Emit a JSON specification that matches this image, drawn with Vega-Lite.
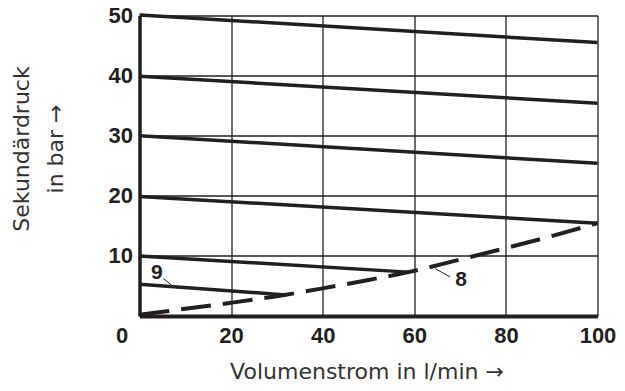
{
  "$schema": "https://vega.github.io/schema/vega-lite/v6.json",
  "autosize": {"type": "none"},
  "padding": {"left": 139.5, "top": 15.5, "right": 27.5, "bottom": 75},
  "width": 458,
  "height": 300.5,
  "background": "white",
  "config": {
    "view": {"stroke": null},
    "font": "Liberation Sans"
  },
  "datasets": {
    "solid": [
      {"series": "50", "q": 0, "p": 50.1},
      {"series": "50", "q": 100, "p": 45.5},
      {"series": "40", "q": 0, "p": 39.9},
      {"series": "40", "q": 100, "p": 35.4},
      {"series": "30", "q": 0, "p": 30.0},
      {"series": "30", "q": 100, "p": 25.4},
      {"series": "20", "q": 0, "p": 19.9},
      {"series": "20", "q": 100, "p": 15.45},
      {"series": "10", "q": 0, "p": 10.0},
      {"series": "10", "q": 58.7, "p": 7.3},
      {"series": "5", "q": 0, "p": 5.3},
      {"series": "5", "q": 32, "p": 3.5}
    ],
    "dashed": [
      {"q": 0, "p": 0.2},
      {"q": 10, "p": 1.2},
      {"q": 20, "p": 2.2},
      {"q": 30, "p": 3.3},
      {"q": 40, "p": 4.6},
      {"q": 50, "p": 6.0},
      {"q": 58.7, "p": 7.3},
      {"q": 70, "p": 9.4},
      {"q": 80, "p": 11.3},
      {"q": 90, "p": 13.3},
      {"q": 100, "p": 15.45}
    ],
    "leaders": [
      {"q": 5.2, "p": 6.27, "q2": 6.96, "p2": 5.16},
      {"q": 64.5, "p": 7.9, "q2": 67.8, "p2": 6.52}
    ],
    "labels": [
      {"q": 3.8, "p": 7.2, "label": "9"},
      {"q": 70.2, "p": 6.07, "label": "8"}
    ]
  },
  "layer": [
    {
      "data": {"name": "solid"},
      "mark": {"type": "line", "color": "#231f20", "strokeWidth": 3.5, "strokeCap": "butt", "clip": false},
      "encoding": {
        "x": {
          "field": "q", "type": "quantitative",
          "scale": {"domain": [0, 100], "nice": false, "zero": true},
          "axis": {
            "values": [0, 20, 40, 60, 80, 100],
            "title": "Volumenstrom in l/min →",
            "titleFont": "DejaVu Sans",
            "titleFontSize": 22,
            "titleFontWeight": "normal",
            "titleColor": "#333333",
            "titleBaseline": "alphabetic",
            "titleAnchor": "middle",
            "titleX": 227,
            "titleY": 62,
            "titlePadding": 0,
            "labelFont": "Liberation Sans",
            "labelFontWeight": "bold",
            "labelFontSize": 22,
            "labelColor": "#231f20",
            "labelBaseline": "alphabetic",
            "labelPadding": 26,
            "labelOffset": {"condition": {"test": "datum.value === 0", "value": -18}, "value": 0},
            "labelFlush": false,
            "ticks": false,
            "tickSize": 0,
            "domainColor": "#231f20",
            "domainWidth": 4,
            "grid": true,
            "gridColor": "#231f20",
            "gridWidth": 1.3,
            "gridOpacity": 1
          }
        },
        "y": {
          "field": "p", "type": "quantitative",
          "scale": {"domain": [0, 50], "nice": false, "zero": true},
          "axis": {
            "values": [10, 20, 30, 40, 50],
            "title": ["Sekundärdruck", "in bar →"],
            "titleFont": "DejaVu Sans",
            "titleFontSize": 22,
            "titleFontWeight": "normal",
            "titleColor": "#333333",
            "titleAngle": -90,
            "titleAlign": "center",
            "titleBaseline": "middle",
            "titleLineHeight": 34,
            "titleX": -118,
            "titleY": 133,
            "titlePadding": 0,
            "labelFont": "Liberation Sans",
            "labelFontWeight": "bold",
            "labelFontSize": 22,
            "labelColor": "#231f20",
            "labelBaseline": "middle",
            "labelPadding": 7,
            "labelFlush": false,
            "ticks": false,
            "tickSize": 0,
            "domainColor": "#231f20",
            "domainWidth": 3.5,
            "grid": true,
            "gridColor": "#231f20",
            "gridWidth": 1.3,
            "gridOpacity": 1
          }
        },
        "detail": {"field": "series", "type": "nominal"}
      }
    },
    {
      "data": {"name": "dashed"},
      "mark": {"type": "line", "color": "#231f20", "strokeWidth": 4, "strokeDash": [30, 12], "strokeCap": "butt", "interpolate": "monotone"},
      "encoding": {
        "x": {"field": "q", "type": "quantitative"},
        "y": {"field": "p", "type": "quantitative"}
      }
    },
    {
      "data": {"name": "leaders"},
      "mark": {"type": "rule", "color": "#231f20", "strokeWidth": 1},
      "encoding": {
        "x": {"field": "q", "type": "quantitative"},
        "y": {"field": "p", "type": "quantitative"},
        "x2": {"field": "q2"},
        "y2": {"field": "p2"}
      }
    },
    {
      "data": {"name": "labels"},
      "mark": {"type": "text", "font": "Liberation Sans", "fontWeight": "bold", "fontSize": 21, "color": "#231f20", "align": "center", "baseline": "middle"},
      "encoding": {
        "x": {"field": "q", "type": "quantitative"},
        "y": {"field": "p", "type": "quantitative"},
        "text": {"field": "label", "type": "nominal"}
      }
    }
  ]
}
